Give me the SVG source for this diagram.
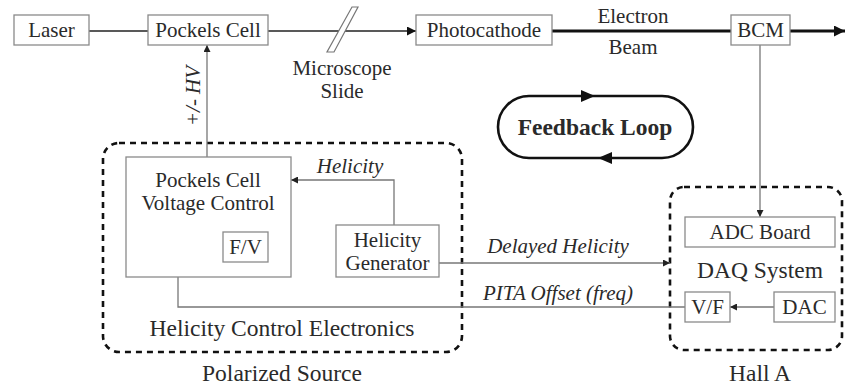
<svg xmlns="http://www.w3.org/2000/svg" width="846" height="386" viewBox="0 0 846 386">
<defs>
<style>
.box{fill:#fff;stroke:#8a8a8a;stroke-width:1.3}
.t{font-family:"Liberation Serif",serif;fill:#2a2a2a;text-anchor:middle}
.s{font-size:21px}
.m{font-size:23.5px}
.i{font-style:italic}
.ln{fill:none;stroke:#777;stroke-width:1.3}
.dk{fill:none;stroke:#222;stroke-width:1.6}
.th{fill:none;stroke:#111;stroke-width:3}
.dash{fill:none;stroke:#111;stroke-width:2.6;stroke-dasharray:6 5}
</style>
<marker id="ah" viewBox="0 0 10 10" refX="10" refY="5" markerWidth="13" markerHeight="9" markerUnits="userSpaceOnUse" orient="auto"><path d="M0,0 L10,5 L0,10 z" fill="#111"/></marker>
<marker id="ahs" viewBox="0 0 10 10" refX="10" refY="5" markerWidth="11" markerHeight="7" markerUnits="userSpaceOnUse" orient="auto"><path d="M0,0 L10,5 L0,10 z" fill="#222"/></marker>
<marker id="ahb" viewBox="0 0 10 10" refX="10" refY="5" markerWidth="14" markerHeight="11" markerUnits="userSpaceOnUse" orient="auto"><path d="M0,0 L10,5 L0,10 z" fill="#111"/></marker>
</defs>
<rect width="846" height="386" fill="#fff"/>

<g id="polarized-source">
<rect class="dash" x="103" y="143" width="359" height="209" rx="16"/>
<text class="t m" x="282" y="336">Helicity Control Electronics</text>
<text class="t m" x="282" y="381">Polarized Source</text>
</g>
<g id="hall-a">
<rect class="dash" x="670" y="187" width="172" height="163" rx="14"/>
<text class="t m" x="760" y="278">DAQ System</text>
<text class="t m" x="760" y="381">Hall A</text>
</g>

<g id="connectors">
<line class="dk" x1="89" y1="31" x2="148" y2="31"/>
<line class="dk" x1="268" y1="31" x2="416" y2="31" marker-end="url(#ah)"/>
<line class="th" x1="552" y1="31" x2="731" y2="31"/>
<line class="th" x1="790" y1="31" x2="845" y2="31" marker-end="url(#ahb)"/>
<line class="ln" x1="760" y1="45" x2="760" y2="217" marker-end="url(#ahs)"/>
<line class="ln" x1="207" y1="157" x2="207" y2="45" marker-end="url(#ahs)"/>
<polyline class="ln" points="394,225 394,180 291,180" marker-end="url(#ahs)"/>
<line class="ln" x1="439" y1="263" x2="670" y2="263" marker-end="url(#ahs)"/>
<line class="ln" x1="774" y1="307" x2="730" y2="307" marker-end="url(#ahs)"/>
<polyline class="ln" points="685,307 178,307 178,247 223,247" marker-end="url(#ahs)"/>
<text class="t s i" x="200" y="96" transform="rotate(-90 200 96)">+/- HV</text>
<text class="t s i" x="350" y="173">Helicity</text>
<text class="t s i" x="558" y="253">Delayed Helicity</text>
<text class="t s i" x="558" y="300">PITA Offset (freq)</text>
<text class="t s" x="633" y="23">Electron</text>
<text class="t s" x="633" y="54">Beam</text>
</g>

<g id="laser"><rect class="box" x="14" y="15" width="75" height="30"/><text class="t s" x="51.5" y="37">Laser</text></g>
<g id="pockels-cell"><rect class="box" x="148" y="15" width="120" height="30"/><text class="t s" x="208" y="37">Pockels Cell</text></g>
<g id="microscope-slide">
<polygon points="352,7 358,7 334,52 327,52" fill="#fff" stroke="#777" stroke-width="1.2"/>
<text class="t s" x="342" y="75">Microscope</text>
<text class="t s" x="342" y="98">Slide</text>
</g>
<g id="photocathode"><rect class="box" x="416" y="15" width="136" height="30"/><text class="t s" x="484" y="37">Photocathode</text></g>
<g id="bcm"><rect class="box" x="731" y="15" width="59" height="30"/><text class="t s" x="760.5" y="37">BCM</text></g>

<g id="feedback-loop">
<rect x="498" y="96" width="195" height="62" rx="31" fill="none" stroke="#111" stroke-width="2.6"/>
<path d="M581,90 L595,96 L581,102 z" fill="#111"/>
<path d="M612,152 L598,158 L612,164 z" fill="#111"/>
<text class="t" x="595" y="135" style="font-size:23.5px;font-weight:bold">Feedback Loop</text>
</g>

<g id="pockels-voltage-control"><rect class="box" x="126" y="157" width="165" height="120"/><text class="t s" x="208" y="187">Pockels Cell</text><text class="t s" x="208" y="210">Voltage Control</text></g>
<g id="fv"><rect class="box" x="223" y="232" width="45" height="30"/><text class="t s" x="245.5" y="254">F/V</text></g>
<g id="helicity-generator"><rect class="box" x="336" y="225" width="103" height="52"/><text class="t s" x="387.5" y="247">Helicity</text><text class="t s" x="387.5" y="270">Generator</text></g>
<g id="adc-board"><rect class="box" x="685" y="217" width="150" height="30"/><text class="t s" x="760" y="239">ADC Board</text></g>
<g id="vf"><rect class="box" x="685" y="292" width="45" height="30"/><text class="t s" x="707.5" y="314">V/F</text></g>
<g id="dac"><rect class="box" x="774" y="292" width="61" height="30"/><text class="t s" x="804.5" y="314">DAC</text></g>
</svg>
